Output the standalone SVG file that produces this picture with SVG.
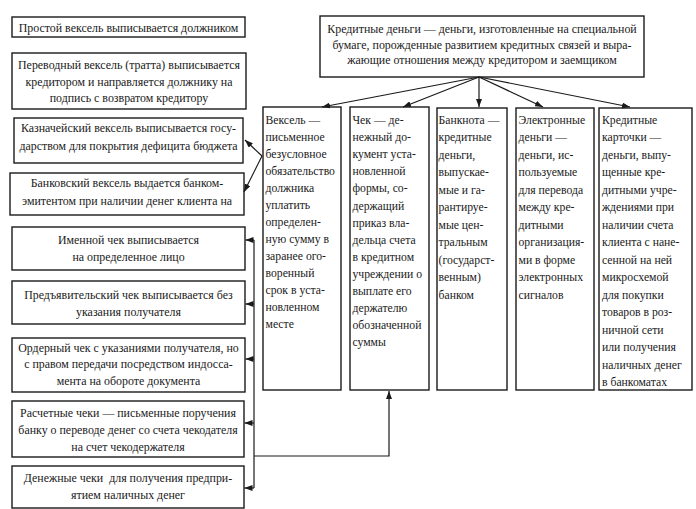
<svg xmlns="http://www.w3.org/2000/svg" width="696" height="509" viewBox="0 0 696 509">
<defs>
<marker id="ah" markerUnits="userSpaceOnUse" markerWidth="8" markerHeight="6" refX="8" refY="3" orient="auto">
<path d="M0,0 L8,3 L0,6 z" fill="#1a1a1a"/>
</marker>
<style>
rect{fill:#fff;stroke:#1a1a1a;stroke-width:1.4}
text{font-family:'Liberation Serif','Times New Roman',serif;font-size:11.9px;fill:#1a1a1a}
.col{font-size:11.7px}
.c{text-anchor:middle}
.cn path,.cn line,.cn polyline{fill:none;stroke:#1a1a1a;stroke-width:1.2}
</style>
</defs>
<rect x="0" y="0" width="696" height="509" style="stroke:none"/>

<g id="top">
<rect x="320" y="16" width="324" height="61"/>
<text class="c" x="482" y="33">Кредитные деньги — деньги, изготовленные на специальной</text>
<text class="c" x="482" y="49">бумаге, порожденные развитием кредитных связей и выра-</text>
<text class="c" x="482" y="64">жающие отношения между кредитором и заемщиком</text>
</g>

<g id="l1"><rect x="12" y="17" width="233" height="20"/>
<text class="c" x="128.5" y="32">Простой вексель выписывается должником</text></g>
<g id="l2"><rect x="12" y="53" width="234" height="56"/>
<text class="c" x="129" y="69">Переводный вексель (тратта) выписывается</text>
<text class="c" x="129" y="85.5">кредитором и направляется должнику на</text>
<text class="c" x="129" y="102">подпись с возвратом кредитору</text></g>
<g id="l3"><rect x="14" y="118" width="229" height="45"/>
<text class="c" x="128.5" y="132">Казначейский вексель выписывается госу-</text>
<text class="c" x="128.5" y="150">дарством для покрытия дефицита бюджета</text></g>
<g id="l4"><rect x="10" y="173" width="234" height="42"/>
<text class="c" x="127" y="187">Банковский вексель выдается банком-</text>
<text class="c" x="127" y="205">эмитентом при наличии денег клиента на</text></g>
<g id="l5"><rect x="12" y="227" width="233" height="43"/>
<text class="c" x="128.5" y="244">Именной чек выписывается</text>
<text class="c" x="128.5" y="261">на определенное лицо</text></g>
<g id="l6"><rect x="12" y="281" width="233" height="43"/>
<text class="c" x="128.5" y="299">Предъявительский чек выписывается без</text>
<text class="c" x="128.5" y="316">указания получателя</text></g>
<g id="l7"><rect x="12" y="338" width="233" height="54"/>
<text class="c" x="128.5" y="352">Ордерный чек с указаниями получателя, но</text>
<text class="c" x="128.5" y="368">с правом передачи посредством индосса-</text>
<text class="c" x="128.5" y="385">мента на обороте документа</text></g>
<g id="l8"><rect x="12" y="401" width="232" height="56"/>
<text class="c" x="128" y="417">Расчетные чеки — письменные поручения</text>
<text class="c" x="128" y="434">банку о переводе денег со счета чекодателя</text>
<text class="c" x="128" y="451">на счет чекодержателя</text></g>
<g id="l9"><rect x="12" y="466" width="232" height="42"/>
<text class="c" x="128" y="482" xml:space="preserve">Денежные чеки  для получения предпри-</text>
<text class="c" x="128" y="499">ятием наличных денег</text></g>

<g id="c1"><rect x="263" y="107" width="78" height="283"/>
<text class="col" x="265.5" y="124">
<tspan x="265.5" dy="0">Вексель —</tspan>
<tspan x="265.5" dy="17">письменное</tspan>
<tspan x="265.5" dy="17">безусловное</tspan>
<tspan x="265.5" dy="17">обязательство</tspan>
<tspan x="265.5" dy="17">должника</tspan>
<tspan x="265.5" dy="17">уплатить</tspan>
<tspan x="265.5" dy="17">определен-</tspan>
<tspan x="265.5" dy="17">ную сумму в</tspan>
<tspan x="265.5" dy="17">заранее ого-</tspan>
<tspan x="265.5" dy="17">воренный</tspan>
<tspan x="265.5" dy="17">срок в уста-</tspan>
<tspan x="265.5" dy="17">новленном</tspan>
<tspan x="265.5" dy="17">месте</tspan>
</text></g>
<g id="c2"><rect x="350" y="107" width="79" height="283"/>
<text class="col" x="352.5" y="124">
<tspan x="352.5" dy="0">Чек — де-</tspan>
<tspan x="352.5" dy="17.1">нежный до-</tspan>
<tspan x="352.5" dy="17.1">кумент уста-</tspan>
<tspan x="352.5" dy="17.1">новленной</tspan>
<tspan x="352.5" dy="17.1">формы, со-</tspan>
<tspan x="352.5" dy="17.1">держащий</tspan>
<tspan x="352.5" dy="17.1">приказ вла-</tspan>
<tspan x="352.5" dy="17.1">дельца счета</tspan>
<tspan x="352.5" dy="17.1">в кредитном</tspan>
<tspan x="352.5" dy="17.1">учреждении о</tspan>
<tspan x="352.5" dy="17.1">выплате его</tspan>
<tspan x="352.5" dy="17.1">держателю</tspan>
<tspan x="352.5" dy="17.1">обозначенной</tspan>
<tspan x="352.5" dy="17.1">суммы</tspan>
</text></g>
<g id="c3"><rect x="437" y="108" width="70" height="282"/>
<text class="col" x="438.5" y="123.5">
<tspan x="438.5" dy="0">Банкнота —</tspan>
<tspan x="438.5" dy="17.5">кредитные</tspan>
<tspan x="438.5" dy="17.5">деньги,</tspan>
<tspan x="438.5" dy="17.5">выпускае-</tspan>
<tspan x="438.5" dy="17.5">мые и га-</tspan>
<tspan x="438.5" dy="17.5">рантируе-</tspan>
<tspan x="438.5" dy="17.5">мые цен-</tspan>
<tspan x="438.5" dy="17.5">тральным</tspan>
<tspan x="438.5" dy="17.5">(государст-</tspan>
<tspan x="438.5" dy="17.5">венным)</tspan>
<tspan x="438.5" dy="17.5">банком</tspan>
</text></g>
<g id="c4"><rect x="516" y="108" width="78" height="282"/>
<text class="col" x="518.5" y="123.5">
<tspan x="518.5" dy="0">Электронные</tspan>
<tspan x="518.5" dy="17.5">деньги —</tspan>
<tspan x="518.5" dy="17.5">деньги, ис-</tspan>
<tspan x="518.5" dy="17.5">пользуемые</tspan>
<tspan x="518.5" dy="17.5">для перевода</tspan>
<tspan x="518.5" dy="17.5">между кре-</tspan>
<tspan x="518.5" dy="17.5">дитными</tspan>
<tspan x="518.5" dy="17.5">организация-</tspan>
<tspan x="518.5" dy="17.5">ми в форме</tspan>
<tspan x="518.5" dy="17.5">электронных</tspan>
<tspan x="518.5" dy="17.5">сигналов</tspan>
</text></g>
<g id="c5"><rect x="599" y="108" width="93" height="282"/>
<text class="col" x="602" y="123.5">
<tspan x="602" dy="0">Кредитные</tspan>
<tspan x="602" dy="17.5">карточки —</tspan>
<tspan x="602" dy="17.5">деньги, выпу-</tspan>
<tspan x="602" dy="17.5">щенные кре-</tspan>
<tspan x="602" dy="17.5">дитными учре-</tspan>
<tspan x="602" dy="17.5">ждениями при</tspan>
<tspan x="602" dy="17.5">наличии счета</tspan>
<tspan x="602" dy="17.5">клиента с нане-</tspan>
<tspan x="602" dy="17.5">сенной на ней</tspan>
<tspan x="602" dy="17.5">микросхемой</tspan>
<tspan x="602" dy="17.5">для покупки</tspan>
<tspan x="602" dy="17.5">товаров в роз-</tspan>
<tspan x="602" dy="17.5">ничной сети</tspan>
<tspan x="602" dy="17.5">или получения</tspan>
<tspan x="602" dy="17.5">наличных денег</tspan>
<tspan x="602" dy="17.5">в банкоматах</tspan>
</text></g>

<g id="connectors" class="cn">
<line x1="479" y1="77" x2="322" y2="107" marker-end="url(#ah)"/>
<line x1="479" y1="77" x2="403" y2="107" marker-end="url(#ah)"/>
<line x1="479" y1="77" x2="479" y2="107" marker-end="url(#ah)"/>
<line x1="479" y1="77" x2="543" y2="107" marker-end="url(#ah)"/>
<line x1="479" y1="77" x2="630" y2="107" marker-end="url(#ah)"/>
<line x1="262" y1="156" x2="245" y2="140" marker-end="url(#ah)"/>
<line x1="262" y1="156" x2="244" y2="192" marker-end="url(#ah)"/>
<line x1="254" y1="240" x2="254" y2="488"/>
<line x1="254" y1="240" x2="245.5" y2="240" marker-end="url(#ah)"/>
<line x1="254" y1="304" x2="245.5" y2="304" marker-end="url(#ah)"/>
<line x1="254" y1="359" x2="245.5" y2="359" marker-end="url(#ah)"/>
<line x1="254" y1="423" x2="244.5" y2="423" marker-end="url(#ah)"/>
<line x1="254" y1="488" x2="244.5" y2="488" marker-end="url(#ah)"/>
<polyline points="254,456 389,456 389,391" marker-end="url(#ah)"/>
</g>
</svg>
